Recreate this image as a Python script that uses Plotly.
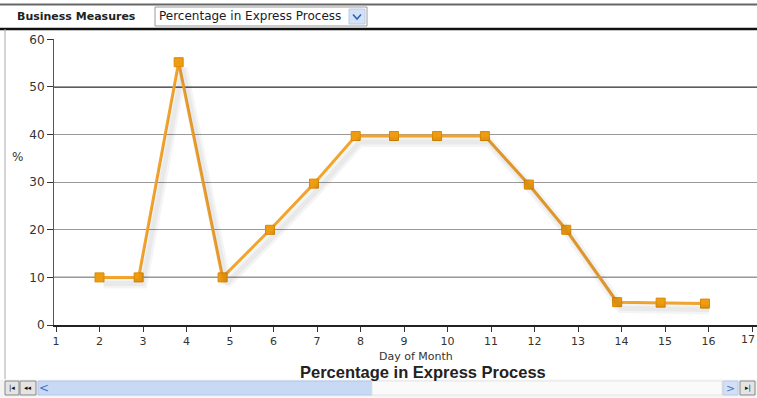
import plotly.graph_objects as go

# Percentage of items in the express process, by day of month
day = [2.0, 2.9, 3.82, 4.83, 5.92, 6.93, 7.89, 8.77, 9.76, 10.86, 11.87, 12.73, 13.9, 14.9, 15.92]
pct = [10, 10, 55.2, 10, 20, 29.7, 39.7, 39.7, 39.7, 39.7, 29.5, 20, 4.8, 4.7, 4.5]
x_ticks = list(range(1, 18))
y_ticks = [0, 10, 20, 30, 40, 50, 60]

W, H = 757, 398
ML, MR, MT, MB = 54, 0, 39, 73
PW, PH = W - ML - MR, H - MT - MB
XR = [0.954, 17.115]
YR = [0, 60.08]


def px(x):
    return (x - ML) / PW


def py(y):
    return (H - MB - y) / PH


LINE = "#F3A42E"
MARK = "#F09C12"
FONT = "DejaVu Sans"

fig = go.Figure()

# soft drop shadow under the series (same data, axes offset by a few pixels)
sx = 4 * (XR[1] - XR[0]) / PW
sy = 6 * (YR[1] - YR[0]) / PH
fig.add_trace(go.Scatter(
    x=day, y=pct, xaxis="x2", yaxis="y2", mode="lines",
    line=dict(color="rgba(0,0,0,0.045)", width=10), hoverinfo="skip", showlegend=False))
fig.add_trace(go.Scatter(
    x=day, y=pct, xaxis="x2", yaxis="y2", mode="lines",
    line=dict(color="rgba(0,0,0,0.045)", width=5), hoverinfo="skip", showlegend=False))

fig.add_trace(go.Scatter(
    x=day, y=pct, mode="lines+markers",
    line=dict(color=LINE, width=3),
    marker=dict(symbol="square", size=9, color=MARK, line=dict(color="#DA8A00", width=1)),
    showlegend=False))

axis_font = dict(family=FONT, size=11, color="#333")
shapes = []
annotations = []

# darker reference gridlines at 10 and 50
for yv in (10, 50):
    shapes.append(dict(type="line", xref="paper", yref="y", x0=0, x1=1, y0=yv, y1=yv,
                       line=dict(color="#262626", width=1.3), layer="below"))


def rect(x0, y0, x1, y1, fill, line="#999", lw=1):
    shapes.append(dict(type="rect", xref="paper", yref="paper",
                       x0=px(x0), x1=px(x1), y0=py(y1), y1=py(y0),
                       fillcolor=fill, line=dict(color=line, width=lw), layer="above"))


def hline(x0, x1, y, color, lw):
    shapes.append(dict(type="line", xref="paper", yref="paper",
                       x0=px(x0), x1=px(x1), y0=py(y), y1=py(y),
                       line=dict(color=color, width=lw), layer="above"))


def text(x, y, s, size=11, color="#222", xanchor="center", family=FONT):
    annotations.append(dict(xref="paper", yref="paper", x=px(x), y=py(y), text=s,
                            showarrow=False, xanchor=xanchor, yanchor="middle",
                            font=dict(family=family, size=size, color=color)))


# header bar
hline(0, W, 4.5, "#666", 2)
hline(0, W, 29, "#111", 2.5)
shapes.append(dict(type="line", xref="paper", yref="paper", x0=px(5), x1=px(5),
                   y0=py(29), y1=py(379), line=dict(color="#aaa", width=1)))
text(15, 16.5, "<b>Business Measures</b>", size=11, xanchor="left")
rect(155, 7, 367, 26, "#ffffff", "#9a9a9a")
text(157, 16.5, "Percentage in Express Process", size=12, color="#1a1a2a", xanchor="left")
rect(349, 9, 365, 24, "#D5E2F6", "#B8CBEA")
shapes.append(dict(type="path", xref="paper", yref="paper",
                   path=f"M{px(353)},{py(14.5)} L{px(357)},{py(19)} L{px(361)},{py(14.5)}",
                   line=dict(color="#3060C0", width=1.6)))

# last tick label sits at the right edge, kept inside the page
annotations.append(dict(xref="paper", yref="paper", x=1, y=py(331), text="17", showarrow=False,
                        xanchor="right", yanchor="top", font=axis_font))

# axis captions
text(17, 157, "%", size=12, color="#333")
text(416, 356, "Day of Month", size=11, color="#333")
text(423, 372, "<b>Percentage in Express Process</b>", size=16.5, color="#222",
     family="Liberation Sans")

# scroll bar
rect(0, 380, W, 397, "#F4F4F4", "#F4F4F4")
rect(5, 381, 19, 395, "#E4E4E4", "#888")
rect(20, 381, 36, 395, "#E4E4E4", "#888")
text(12, 388, "|◂", size=7, color="#111")
text(28, 388, "◂◂", size=7, color="#111")
rect(38, 381, 372, 395, "#C8D9F4", "#B0C6EA")
text(44, 388, "<", size=12, color="#4A70C8")
rect(372, 381, 722, 395, "#FAFAFA", "#E6E6E6")
rect(723, 381, 738, 395, "#D3E0F4", "#B7CAE8")
text(730.5, 388, ">", size=11, color="#4A70C8")
rect(740, 381, 755, 395, "#E4E4E4", "#888")
text(747.5, 388, "▸|", size=7, color="#111")

fig.update_layout(
    width=W, height=H,
    margin=dict(l=ML, r=MR, t=MT, b=MB, pad=0),
    paper_bgcolor="white", plot_bgcolor="white",
    xaxis=dict(range=XR, tickvals=x_ticks, ticks="outside", ticklen=5, tickcolor="#333",
               showgrid=False, zeroline=False, showline=True, linecolor="#222", linewidth=2,
               tickfont=axis_font, fixedrange=True),
    yaxis=dict(range=YR, tickvals=y_ticks, ticks="outside", ticklen=6, tickcolor="#333",
               showgrid=True, gridcolor="#9a9a9a", gridwidth=1, zeroline=False,
               showline=True, linecolor="#555", linewidth=1,
               tickfont=dict(family=FONT, size=12, color="#333"), fixedrange=True),
    xaxis2=dict(range=[XR[0] - sx, XR[1] - sx], overlaying="x", visible=False),
    yaxis2=dict(range=[YR[0] + sy, YR[1] + sy], overlaying="y", visible=False),
    shapes=shapes, annotations=annotations,
)

fig.write_html("out.html")
